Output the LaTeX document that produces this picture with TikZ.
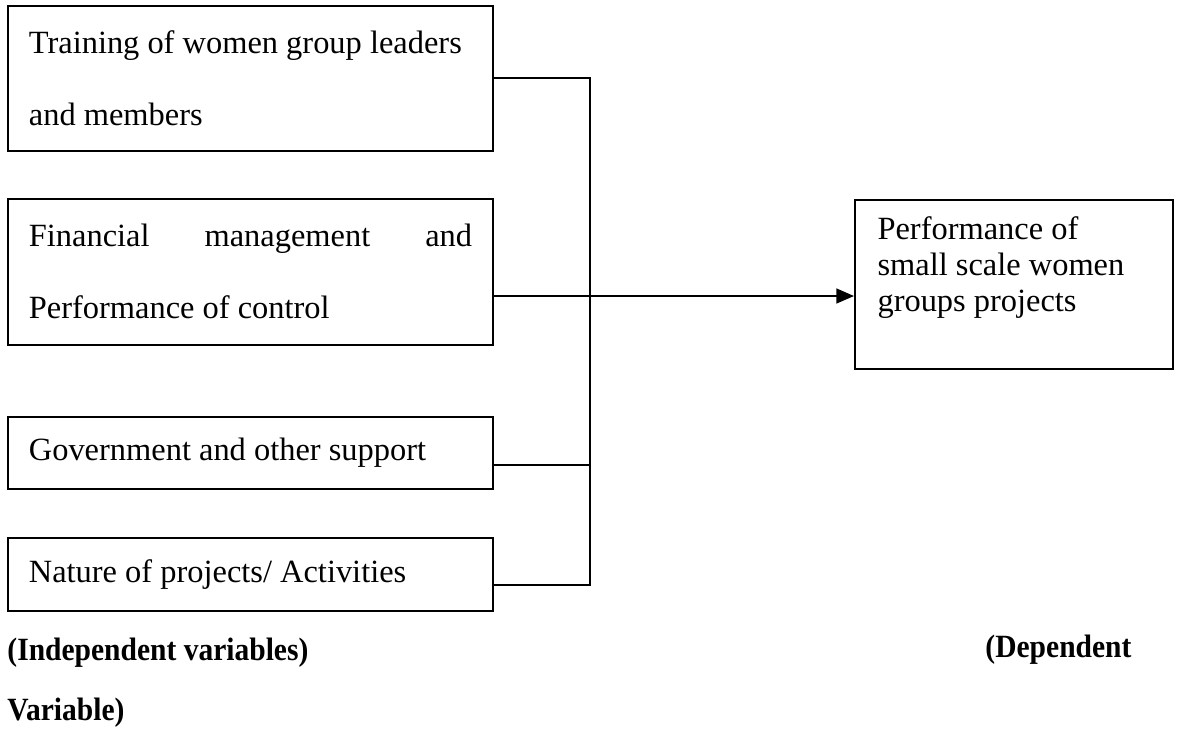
\documentclass[tikz,border=0pt]{standalone}
\usepackage{xcolor}
\usepackage{fontspec}
\setmainfont{Liberation Serif}
\usetikzlibrary{arrows.meta}

\tikzset{
  ivbox/.style={draw, line width=0.6pt, anchor=north west, text width=164pt, inner xsep=7.8pt,
    align=justify, font=\fontsize{12}{26.6}\selectfont},
  dvbox/.style={draw, line width=0.6pt, anchor=north west, minimum width=117.7pt, minimum height=62.5pt},
  link/.style={line width=0.6pt},
  varlabel/.style={anchor=base west, font=\fontsize{12}{14}\selectfont\bfseries, inner sep=0pt,
    xscale=0.91, transform shape}
}

\begin{document}
\begin{tikzpicture}[x=0.37pt, y=-0.37pt]
		\useasboundingbox (0,0) rectangle (1178,731);
		% independent variables
		\node (ib1) [ivbox, minimum height=53.7pt] at (7,5) {Training of women group leaders\\and members};
		\node (ib2) [ivbox, minimum height=54pt] at (7,198) {Financial\hfill management\hfill and\\Performance of control};
		\node (ib3) [ivbox, minimum height=26.6pt] at (7,416) {Government and other support};
		\node (ib4) [ivbox, minimum height=27pt] at (7,537) {Nature of projects/ Activities};
		% dependent variable
		\node (dv) [dvbox] at (854,199) {};
		\node (dvtext) [anchor=north west, align=left, inner sep=0pt, font=\fontsize{12}{13.3}\selectfont] at (877,216) {Performance of\\small scale women\\groups projects};
		% bus line
		\coordinate (bus1) at (590,78);
		\coordinate (bus2) at (590,296);
		\coordinate (bus3) at (590,465);
		\coordinate (bus4) at (590,585);
		\draw[link] (ib1.east |- bus1) -- (bus1) -- (bus4) -- (ib4.east |- bus4);
		\draw[link] (ib3.east |- bus3) -- (bus3);
		\draw[link, -{Triangle[length=6.5pt, width=5.5pt]}] (ib2.east |- bus2) -- (dv.west |- bus2);
		% labels
		\node (ivlabel) [varlabel] at (7,660) {(Independent variables)};
		\node (dvlabel) [varlabel] at (985,657) {(Dependent};
		\node (dvlabel2) [varlabel] at (7,720) {Variable)};
		\end{tikzpicture}
\end{document}
